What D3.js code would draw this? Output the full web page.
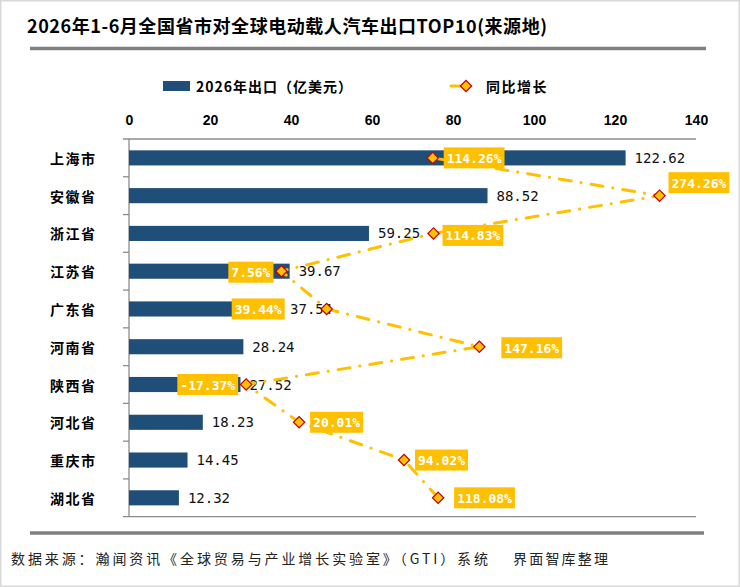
<!DOCTYPE html>
<html>
<head>
<meta charset="utf-8">
<script src="https://cdn.jsdelivr.net/npm/d3@7"></script>
<style>
body{margin:0;background:#fff;}
svg{display:block;}
</style>
</head>
<body>
<script>
var regions = ['上海市','安徽省','浙江省','江苏省','广东省','河南省','陕西省','河北省','重庆市','湖北省'];
var exportVal = [122.62, 88.52, 59.25, 39.67, 37.54, 28.24, 27.52, 18.23, 14.45, 12.32];
var growth = [114.26, 274.26, 114.83, 7.56, 39.44, 147.16, -17.37, 20.01, 94.02, 118.08];
var xTicks = [0, 20, 40, 60, 80, 100, 120, 140];

// where each growth tag sits next to its marker (dx>0: left edge, dx<0: right edge)
var tagOff = [[11,0],[9,-13],[9,2],[-8,1],[-42,0],[22,1],[-8,0],[11,0],[11,0],[16,0]];

var W = 740, H = 587;
var cjk = '"Noto Sans CJK SC", sans-serif';
var mono = '"DejaVu Sans Mono", monospace';
var blue = '#1F4E79', gold = '#FFC000', grey = '#808080';

var svg = d3.select('body').append('svg').attr('width', W).attr('height', H);

svg.append('rect').attr('x',0.75).attr('y',0.75).attr('width',W-1.5).attr('height',H-1.5)
	.attr('fill','#fff').attr('stroke','#d9d9d9').attr('stroke-width',1.5);

/* title + rules */
svg.append('text').attr('x',27).attr('y',25).attr('dominant-baseline','central')
	.attr('textLength',520).attr('lengthAdjust','spacing')
	.style('font-family',cjk).style('font-size','18px').style('font-weight','bold').attr('fill','#000')
	.text('2026年1-6月全国省市对全球电动载人汽车出口TOP10(来源地)');
svg.append('line').attr('x1',30).attr('x2',706).attr('y1',48.5).attr('y2',48.5).style('stroke',grey).style('stroke-width',3.5);
svg.append('line').attr('x1',30).attr('x2',704).attr('y1',533).attr('y2',533).style('stroke',grey).style('stroke-width',3.5);

/* footer */
svg.append('text').attr('x',11).attr('y',558).attr('dominant-baseline','central')
	.attr('textLength',477).attr('lengthAdjust','spacing')
	.style('font-family',cjk).style('font-size','14px').attr('fill','#222')
	.text('数据来源：瀚闻资讯《全球贸易与产业增长实验室》（GTI）系统');
svg.append('text').attr('x',513).attr('y',558).attr('dominant-baseline','central')
	.attr('textLength',95).attr('lengthAdjust','spacing')
	.style('font-family',cjk).style('font-size','14px').attr('fill','#222')
	.text('界面智库整理');

/* scales */
var x = d3.scaleLinear().domain([0,140]).range([129,696]);
var xg = d3.scaleLinear().domain([-100,300]).range([129,696]);
var y = d3.scaleBand().domain(regions).range([139,516.7]).paddingInner(0.6).paddingOuter(0.3);
var cy = function(r){ return y(r) + y.bandwidth()/2; };

/* legend */
var lg = svg.append('g');
lg.append('rect').attr('x',163).attr('y',81).attr('width',27).attr('height',10).attr('fill',blue);
lg.append('text').attr('x',196).attr('y',86).attr('dominant-baseline','central')
	.style('font-family',cjk).style('font-size','14px').style('font-weight','bold').style('letter-spacing','1px')
	.text('2026年出口（亿美元）');
lg.append('line').attr('x1',451).attr('x2',476).attr('y1',86).attr('y2',86)
	.style('stroke',gold).style('stroke-width',3).style('stroke-linecap','round').style('stroke-dasharray','10,15,0.1,10');
lg.append('path').attr('d',d3.symbol().type(d3.symbolSquare).size(64)())
	.attr('transform','translate(466,86) rotate(45)').attr('fill',gold).attr('stroke','#C00000').attr('stroke-width',1.2);
lg.append('text').attr('x',486).attr('y',86).attr('dominant-baseline','central')
	.style('font-family',cjk).style('font-size','14px').style('font-weight','bold').style('letter-spacing','1.5px')
	.text('同比增长');

/* top value axis */
var ax = svg.append('g').attr('transform','translate(0,139)')
	.call(d3.axisTop(x).tickValues(xTicks).tickSize(0).tickPadding(14));
ax.select('.domain').remove();
ax.selectAll('text').style('font-family','"Liberation Sans", Arial, sans-serif')
	.style('font-size','14px').style('font-weight','bold').attr('fill','#000');

/* frame lines + category ticks */
var axisCol = '#8c8c8c';
svg.append('line').attr('x1',123).attr('x2',696).attr('y1',139).attr('y2',139).style('stroke',axisCol).style('stroke-width',1.3);
svg.append('line').attr('x1',123).attr('x2',696).attr('y1',516.7).attr('y2',516.7).style('stroke',axisCol).style('stroke-width',1.3);
svg.append('line').attr('x1',129).attr('x2',129).attr('y1',139).attr('y2',516.7).style('stroke',axisCol).style('stroke-width',1.3);
d3.range(1, regions.length).forEach(function(i){
	var ty = y.range()[0] + i*y.step();
	svg.append('line').attr('x1',123).attr('x2',129).attr('y1',ty).attr('y2',ty).style('stroke',axisCol).style('stroke-width',1.3);
});

/* category labels */
svg.selectAll('.cat').data(regions).enter().append('text').attr('class','cat')
	.attr('x',50).attr('y',function(d){ return cy(d); }).attr('dominant-baseline','central')
	.style('font-family',cjk).style('font-size','14px').style('font-weight','bold').style('letter-spacing','1.5px')
	.text(function(d){ return d; });

/* bars */
svg.selectAll('.bar').data(regions).enter().append('rect').attr('class','bar')
	.attr('x',x(0)).attr('y',function(d){ return y(d); })
	.attr('width',function(d,i){ return x(exportVal[i]) - x(0); })
	.attr('height',y.bandwidth()).attr('fill',blue);

svg.selectAll('.val').data(regions).enter().append('text').attr('class','val')
	.attr('x',function(d,i){ return x(exportVal[i]) + 9; }).attr('y',function(d){ return cy(d); })
	.attr('dominant-baseline','central')
	.style('font-family',mono).style('font-size','14px').attr('fill','#111')
	.text(function(d,i){ return exportVal[i].toFixed(2); });

/* growth line */
var pts = regions.map(function(r,i){ return [xg(growth[i]), cy(r)]; });
svg.append('path').attr('d',d3.line()(pts)).attr('fill','none')
	.style('stroke',gold).style('stroke-width',3).style('stroke-linecap','round')
	.style('stroke-dasharray','12,10,0.1,10');

/* growth tags */
var tags = svg.selectAll('.tag').data(regions).enter().append('g').attr('class','tag');
tags.each(function(r,i){
	var g = d3.select(this);
	var t = g.append('text').attr('dominant-baseline','central')
		.style('font-family',mono).style('font-size','13px').style('font-weight','bold').attr('fill','#fff')
		.text(growth[i].toFixed(2) + '%');
	var tw = t.node().getComputedTextLength();
	var bw = tw + 6, bh = 21;
	var off = tagOff[i];
	var left = off[0] >= 0 ? pts[i][0] + off[0] : pts[i][0] + off[0] - bw;
	var mid = pts[i][1] + off[1];
	g.insert('rect','text').attr('x',left).attr('y',mid - bh/2).attr('width',bw).attr('height',bh).attr('fill',gold);
	t.attr('x',left + 3).attr('y',mid + 0.5);
});

/* markers */
svg.selectAll('.mk').data(pts).enter().append('path').attr('class','mk')
	.attr('d',d3.symbol().type(d3.symbolSquare).size(64)())
	.attr('transform',function(d){ return 'translate(' + d[0] + ',' + d[1] + ') rotate(45)'; })
	.attr('fill',gold).attr('stroke','#C00000').attr('stroke-width',1.2);
</script>
</body>
</html>
